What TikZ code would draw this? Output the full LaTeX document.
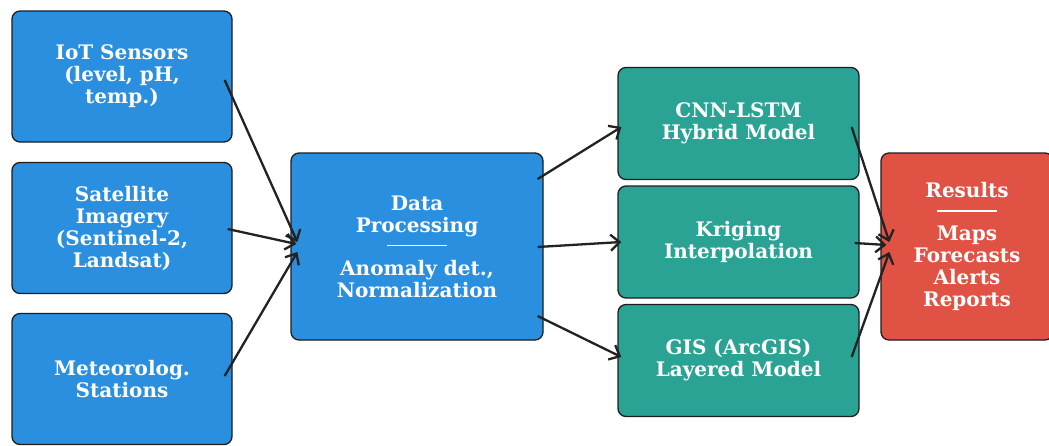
\documentclass[tikz,border=0pt]{standalone}
\usepackage{fontspec}
\setmainfont{DejaVu Serif}
\usetikzlibrary{arrows.meta,calc}
\definecolor{bluebox}{HTML}{2B8FE0}
\definecolor{tealbox}{HTML}{2BA394}
\definecolor{redbox}{HTML}{E05243}
\definecolor{edgecol}{HTML}{1E1E1E}
\definecolor{arrowcol}{HTML}{222222}
\tikzset{
  box/.style={draw=edgecol, line width=1.3pt, rounded corners=8pt, text=white,
    align=center, inner sep=0pt,
    font=\fontsize{20}{22}\selectfont\bfseries},
  srcbox/.style={box, fill=bluebox, minimum width=220pt, minimum height=131pt},
  procbox/.style={box, fill=bluebox, minimum width=252pt, minimum height=187pt},
  modelbox/.style={box, fill=tealbox, minimum width=241pt, minimum height=112pt},
  resbox/.style={box, fill=redbox, minimum width=172pt, minimum height=187pt},
  arr/.style={draw=arrowcol, line width=2.3pt, -{Straight Barb[length=9pt,width=16pt,line width=2.3pt]}},
}
\newcommand{\seprule}{\rule[6pt]{60pt}{1.3pt}}
\begin{document}
\begin{tikzpicture}[x=1pt,y=-1pt]
\clip (0,0) rectangle (1049,445);
\fill[white] (0,0) rectangle (1049,445);
\node[srcbox] (iot) at (122,76.5) {IoT Sensors\\(level, pH,\\temp.)};
\node[srcbox] (sat) at (122,228) {Satellite\\Imagery\\(Sentinel-2,\\Landsat)};
\node[srcbox] (met) at (122,379) {Meteorolog.\\Stations};
\node[procbox] (dp) at (417,246.5) {Data\\Processing\\[-2pt]\seprule\\[1pt]Anomaly det.,\\Normalization};
\node[modelbox] (cnn) at (738.5,123.5) {CNN-LSTM\\Hybrid Model};
\node[modelbox] (krig) at (738.5,242) {Kriging\\Interpolation};
\node[modelbox] (gis) at (738.5,360.5) {GIS (ArcGIS)\\Layered Model};
\node[resbox] (res) at (967,246.5) {Results\\[-2pt]\seprule\\[1pt]Maps\\Forecasts\\Alerts\\Reports};

\draw[arr] ($(iot.east)+(-8,3.5)$) -- ($(dp.west)+(7,-4.5)$);
\draw[arr] ($(sat.east)+(-5,1)$) -- ($(dp.west)+(6,-2.5)$);
\draw[arr] ($(met.east)+(-8,-3)$) -- ($(dp.west)+(7,5.5)$);
\draw[arr] ($(dp.east)+(-6,-67.5)$) -- ($(cnn.west)+(4,3.5)$);
\draw[arr] ($(dp.east)+(-6,0.5)$) -- ($(krig.west)+(4,0)$);
\draw[arr] ($(dp.east)+(-6,69.5)$) -- ($(gis.west)+(4,-3.5)$);
\draw[arr] ($(cnn.east)+(-8,3.5)$) -- ($(res.west)+(9,-4.5)$);
\draw[arr] ($(krig.east)+(-5,1)$) -- ($(res.west)+(6,-1.5)$);
\draw[arr] ($(gis.east)+(-8,-3.5)$) -- ($(res.west)+(9,5.5)$);
\end{tikzpicture}
\end{document}
